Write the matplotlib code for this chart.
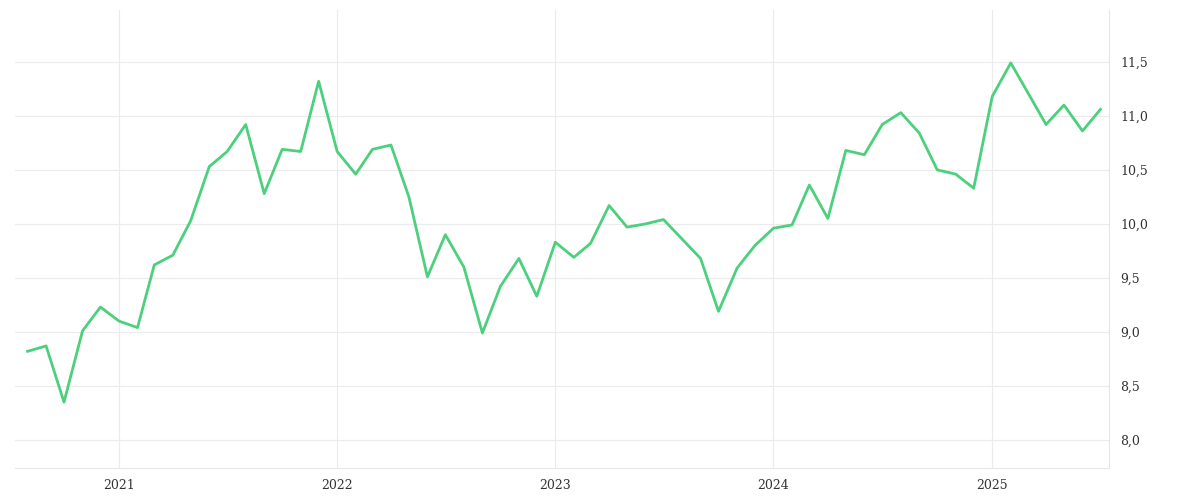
import matplotlib
matplotlib.use("Agg")
import matplotlib.pyplot as plt
import pandas as pd
from matplotlib.ticker import FuncFormatter
import matplotlib.dates as mdates

dates = pd.date_range("2020-08-01", periods=60, freq="MS")
values = [8.82, 8.87, 8.35, 9.01, 9.23, 9.10, 9.04, 9.62, 9.71, 10.03,
          10.53, 10.67, 10.92, 10.28, 10.69, 10.67, 11.32, 10.67, 10.46, 10.69,
          10.73, 10.25, 9.51, 9.90, 9.60, 8.99, 9.42, 9.68, 9.33, 9.83,
          9.69, 9.82, 10.17, 9.97, 10.00, 10.04, 9.86, 9.68, 9.19, 9.59,
          9.80, 9.96, 9.99, 10.36, 10.05, 10.68, 10.64, 10.92, 11.03, 10.84,
          10.50, 10.46, 10.33, 11.18, 11.49, 11.22, 10.92, 11.10, 10.86, 11.06]
yticks = [8.0, 8.5, 9.0, 9.5, 10.0, 10.5, 11.0, 11.5]
year_ticks = pd.to_datetime(["2021-01-01", "2022-01-01", "2023-01-01", "2024-01-01", "2025-01-01"])

fig = plt.figure(figsize=(12, 5), dpi=100)
ax = fig.add_axes([0.0125, 0.064, 0.912, 0.916])
ax.plot(dates, values, color="#4cd07d", lw=2.0)
ax.set_ylim(7.74, 11.98)
ax.set_xlim(pd.Timestamp("2020-07-11"), pd.Timestamp("2025-07-16"))
ax.yaxis.tick_right()
ax.set_yticks(yticks)
ax.yaxis.set_major_formatter(FuncFormatter(lambda v, p: f"{v:.1f}".replace(".", ",")))
ax.set_xticks(year_ticks)
ax.xaxis.set_major_formatter(mdates.DateFormatter("%Y"))
ax.grid(True, color="#ebebeb", lw=0.8)
for s in ["top", "left"]:
    ax.spines[s].set_visible(False)
for s in ["bottom", "right"]:
    ax.spines[s].set_color("#e6e6e6")
ax.tick_params(length=0, labelsize=9, colors="#333333", pad=8)
for t in ax.get_xticklabels() + ax.get_yticklabels():
    t.set_family("DejaVu Serif")
fig.savefig("out.png")
